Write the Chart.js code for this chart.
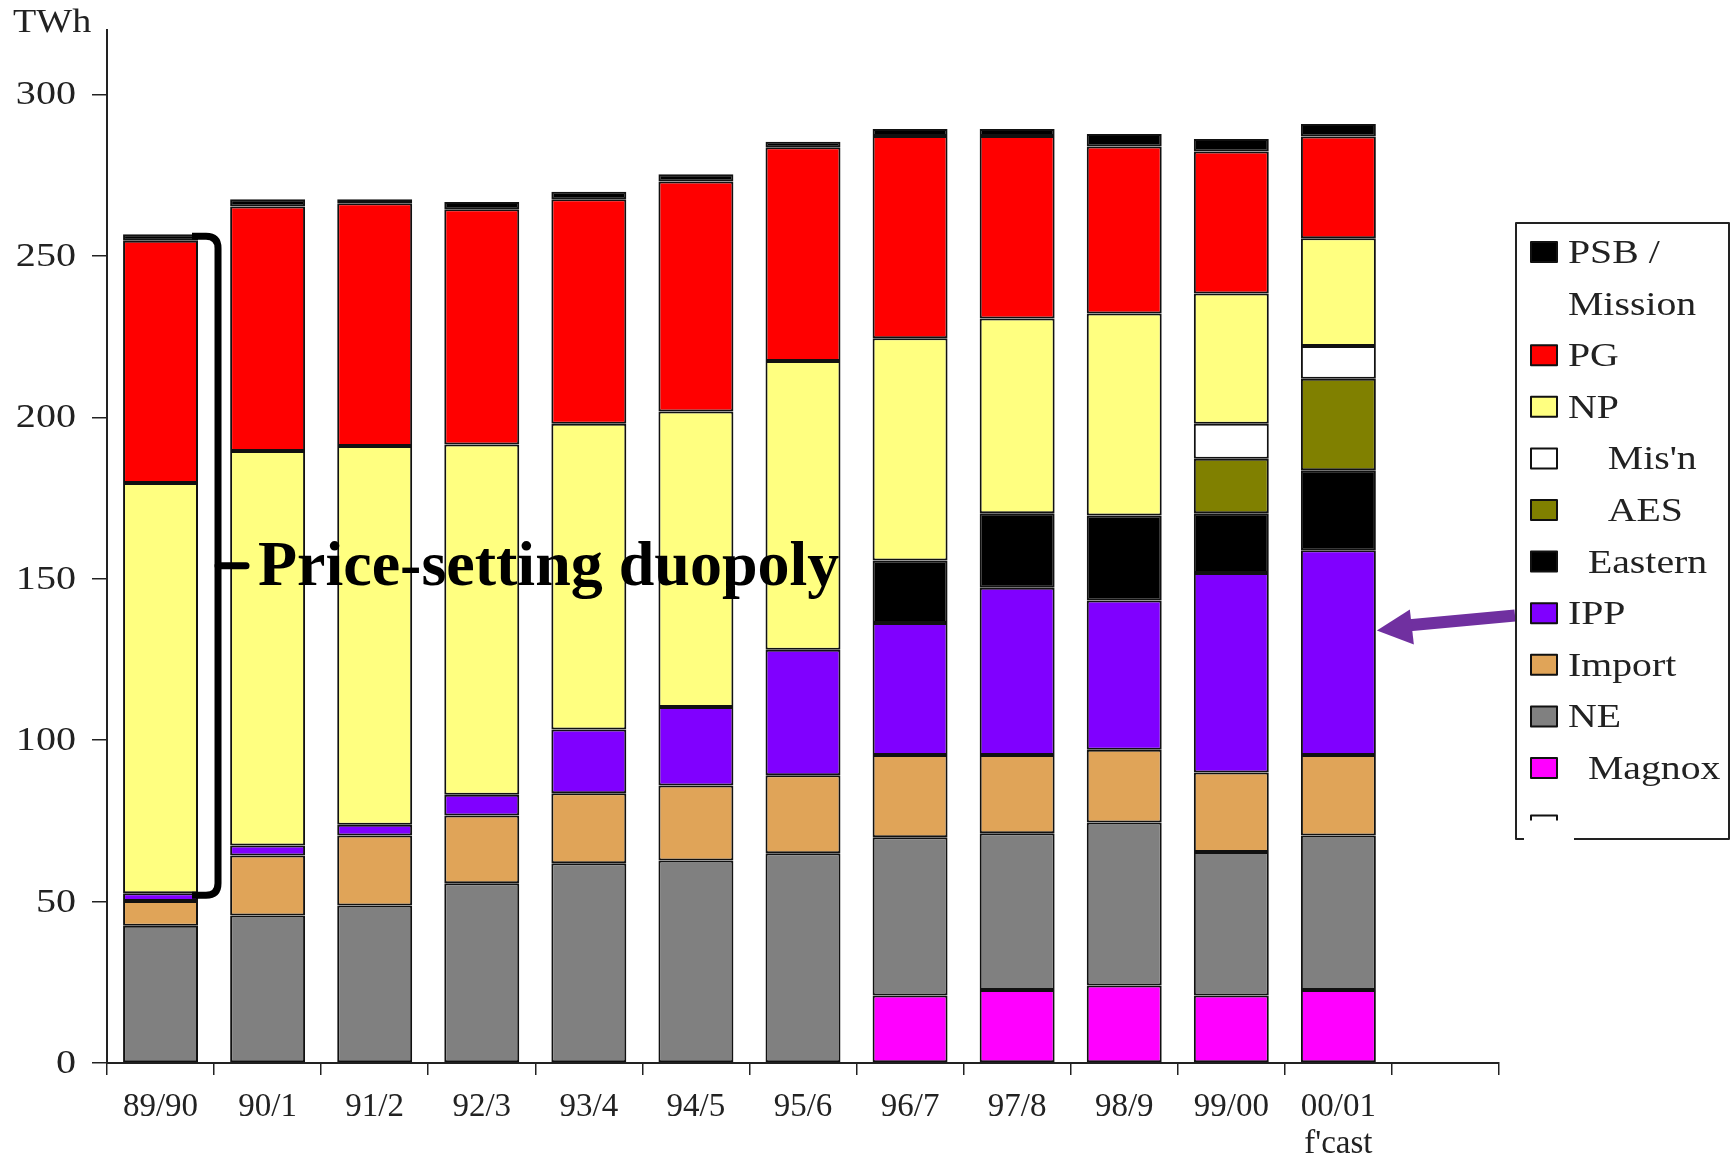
<!DOCTYPE html>
<html>
<head>
<meta charset="utf-8">
<script src="https://cdn.jsdelivr.net/npm/chart.js@4.4.1/dist/chart.umd.min.js"></script>
<style>
  html, body { margin: 0; padding: 0; background: #fff; }
  #caixa { width: 1731px; height: 1156px; }
</style>
</head>
<body>
<div id="caixa"><canvas id="grafico" width="1731" height="1156"></canvas></div>
<script>
const anos = ['89/90', '90/1', '91/2', '92/3', '93/4', '94/5', '95/6', '96/7', '97/8', '98/9', '99/00', ['00/01', "f'cast"], ''];
const magnox     = [null, null, null, null, null, null, null, 20.9, 22.6, 24.0, 20.9, 22.6, null];
const ne         = [42.5, 45.7, 48.8, 55.7, 61.9, 62.7, 65.0, 49.0, 48.6, 50.5, 44.5, 47.9, null];
const importacao = [7.7, 18.6, 21.7, 21.0, 21.7, 23.3, 24.1, 25.5, 24.2, 22.5, 24.6, 24.9, null];
const ipp        = [2.4, 3.1, 3.3, 6.4, 19.7, 24.3, 38.9, 40.9, 51.8, 46.3, 61.8, 63.4, null];
const eastern    = [null, null, null, null, null, null, null, 19.4, 23.1, 26.3, 18.5, 24.8, null];
const aes        = [null, null, null, null, null, null, null, null, null, null, 16.9, 28.4, null];
const misn       = [null, null, null, null, null, null, null, null, null, null, 10.8, 10.1, null];
const np         = [127.1, 122.2, 117.3, 108.5, 94.7, 91.5, 89.5, 68.8, 60.3, 62.6, 40.4, 33.4, null];
const pg         = [75.0, 75.7, 75.2, 72.9, 69.6, 71.3, 66.2, 62.7, 56.6, 51.7, 44.0, 31.5, null];
const psb        = [2.0, 2.3, 1.3, 2.2, 2.3, 2.2, 1.7, 2.1, 2.1, 3.9, 3.8, 3.9, null];
const marcasY    = [0, 50, 100, 150, 200, 250, 300];

const fonteSerif = "'Liberation Serif', 'Times New Roman', serif";
Chart.defaults.font.family = fonteSerif;
Chart.defaults.color = '#222';

function serie(rotulo, legenda, dados, cor) {
  return { label: rotulo, legenda: legenda, data: dados, backgroundColor: cor, borderColor: '#111', borderWidth: 2, borderSkipped: false, categoryPercentage: 1, barPercentage: 0.7 };
}

const conjuntos = [
  serie('Magnox', ['  Magnox'], magnox, '#ff00ff'),
  serie('NE', ['NE'], ne, '#808080'),
  serie('Import', ['Import'], importacao, '#e0a458'),
  serie('IPP', ['IPP'], ipp, '#8000ff'),
  serie('Eastern', ['  Eastern'], eastern, '#000000'),
  serie('AES', ['    AES'], aes, '#808000'),
  serie("Mis'n", ["    Mis'n"], misn, '#ffffff'),
  serie('NP', ['NP'], np, '#ffff80'),
  serie('PG', ['PG'], pg, '#ff0000'),
  serie('PSB / Mission', ['PSB /', 'Mission'], psb, '#000000')
];

// texto esticado na horizontal, como no original
function textoLargo(ctx, t, x, y, fator) {
  ctx.save();
  ctx.translate(x, y);
  ctx.scale(fator, 1);
  ctx.fillText(t, 0, 0);
  ctx.restore();
}

const extras = {
  id: 'extras',
  afterDraw(chart) {
    const ctx = chart.ctx;
    const ys = chart.scales.y;
    ctx.save();

    // TWh
    ctx.fillStyle = '#222';
    ctx.font = '34px ' + fonteSerif;
    ctx.textBaseline = 'alphabetic';
    textoLargo(ctx, 'TWh', 13, 32, 1.12);

    // rótulos do eixo Y (esticados)
    ctx.textAlign = 'right';
    ctx.textBaseline = 'middle';
    marcasY.forEach(v => textoLargo(ctx, String(v), 76, ys.getPixelForValue(v) + 1, 1.18));
    ctx.textAlign = 'left';
    ctx.textBaseline = 'alphabetic';

    // chave da "Price-setting duopoly" na primeira barra
    const barra = chart.getDatasetMeta(conjuntos.length - 1).data[0];
    const dir = barra.x + barra.width / 2;
    const topo = ys.getPixelForValue(ne[0] + importacao[0] + ipp[0] + np[0] + pg[0] + psb[0]) + 2;
    const base = ys.getPixelForValue(ne[0] + importacao[0] + ipp[0]) + 2;
    const meio = (topo + base) / 2;
    const xv = dir + 20, r = 12;
    ctx.strokeStyle = '#000';
    ctx.lineWidth = 7;
    ctx.lineJoin = 'round';
    ctx.beginPath();
    ctx.moveTo(dir - 6, topo);
    ctx.lineTo(xv - r, topo);
    ctx.quadraticCurveTo(xv, topo, xv, topo + r);
    ctx.lineTo(xv, base - r);
    ctx.quadraticCurveTo(xv, base, xv - r, base);
    ctx.lineTo(dir - 6, base);
    ctx.stroke();
    ctx.lineCap = 'round';
    ctx.beginPath();
    ctx.moveTo(xv, meio);
    ctx.lineTo(xv + 28, meio);
    ctx.stroke();

    ctx.fillStyle = '#000';
    ctx.font = 'bold 64px ' + fonteSerif;
    ctx.fillText('Price-setting duopoly', xv + 40, meio + 19);

    // seta roxa apontando para o IPP de 00/01
    const ult = chart.getDatasetMeta(3).data[11];
    const ponta = ult.x + ult.width / 2 + 1;
    const yp = ys.getPixelForValue(134);
    ctx.fillStyle = '#7030a0';
    ctx.strokeStyle = '#7030a0';
    ctx.lineCap = 'butt';
    ctx.lineWidth = 12;
    ctx.beginPath();
    ctx.moveTo(1515, yp - 15);
    ctx.lineTo(ponta + 30, yp - 5);
    ctx.stroke();
    ctx.beginPath();
    ctx.moveTo(ponta, yp);
    ctx.lineTo(ponta + 33, yp - 21);
    ctx.lineTo(ponta + 37, yp + 14);
    ctx.closePath();
    ctx.fill();

    // legenda em caixa
    const bx = 1516, by = 223, bx2 = 1729, by2 = 839;
    ctx.strokeStyle = '#222';
    ctx.lineWidth = 2;
    ctx.beginPath();
    ctx.moveTo(bx + 8, by2);
    ctx.lineTo(bx, by2);
    ctx.lineTo(bx, by);
    ctx.lineTo(bx2, by);
    ctx.lineTo(bx2, by2);
    ctx.lineTo(bx + 58, by2);
    ctx.stroke();

    ctx.font = '34px ' + fonteSerif;
    ctx.textBaseline = 'middle';
    let linha = 0;
    const y0 = 252, passo = 51.6;
    conjuntos.slice().reverse().forEach(ds => {
      const y = y0 + linha * passo;
      ctx.fillStyle = ds.backgroundColor;
      ctx.fillRect(1531, y - 10, 26, 20);
      ctx.lineWidth = 2;
      ctx.strokeStyle = '#111';
      ctx.strokeRect(1531, y - 10, 26, 20);
      ctx.fillStyle = '#222';
      ds.legenda.forEach((t, k) => textoLargo(ctx, t, 1568, y + k * passo + 2, 1.17));
      linha += ds.legenda.length;
    });
    // item em branco cortado no fim da legenda
    const yb = y0 + linha * passo - 4;
    ctx.strokeStyle = '#111';
    ctx.beginPath();
    ctx.moveTo(1531, yb + 5);
    ctx.lineTo(1531, yb);
    ctx.lineTo(1557, yb);
    ctx.lineTo(1557, yb + 5);
    ctx.stroke();

    ctx.restore();
  }
};

new Chart(document.getElementById('grafico').getContext('2d'), {
  type: 'bar',
  data: { labels: anos, datasets: conjuntos },
  plugins: [extras],
  options: {
    responsive: false,
    animation: false,
    layout: { padding: { top: 30, right: 232, left: 0, bottom: 0 } },
    plugins: { legend: { display: false }, tooltip: { enabled: false } },
    scales: {
      x: {
        stacked: true,
        afterFit: s => { s.height = 93; },
        grid: { display: true, offset: true, drawOnChartArea: false, drawTicks: true, tickLength: 12, color: '#222', lineWidth: 1.5 },
        border: { display: true, color: '#222', width: 2 },
        ticks: { autoSkip: false, maxRotation: 0, padding: 14, color: '#222', font: { size: 33, lineHeight: 1.12 } }
      },
      y: {
        stacked: true,
        min: 0,
        max: 320,
        afterFit: s => { s.width = 107; },
        afterBuildTicks: s => { s.ticks = marcasY.map(v => ({ value: v })); },
        grid: { display: true, drawOnChartArea: false, drawTicks: true, tickLength: 15, color: '#222', lineWidth: 1.5 },
        border: { display: true, color: '#222', width: 2 },
        ticks: { display: false }
      }
    }
  }
});
</script>
</body>
</html>
